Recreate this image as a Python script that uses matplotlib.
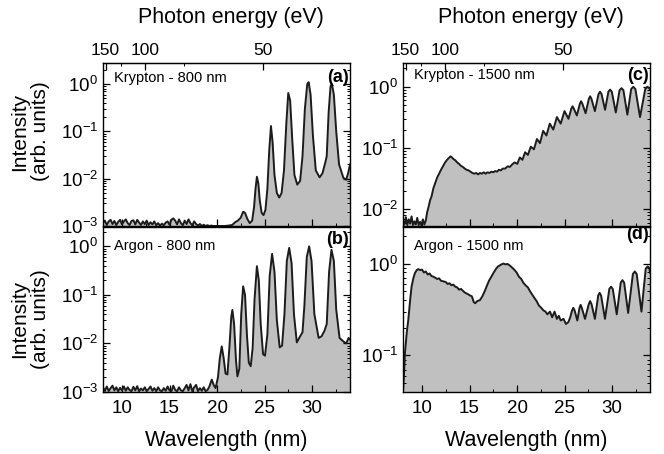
import numpy as np
import matplotlib
matplotlib.use("Agg")
import matplotlib.pyplot as plt
from matplotlib.ticker import LogLocator, NullFormatter, MultipleLocator

plt.rcParams['font.family'] = ['Liberation Sans', 'DejaVu Sans']
plt.rcParams['mathtext.fontset'] = 'custom'
plt.rcParams['mathtext.rm'] = 'Liberation Sans'
plt.rcParams['mathtext.it'] = 'Liberation Sans:italic'
plt.rcParams['mathtext.bf'] = 'Liberation Sans:bold'

# ------------------- DATA -------------------
# (a) Krypton - 800 nm, intensity in units of 1e-3
kr800_wl = [8.0, 8.2, 8.4, 8.6, 8.8, 9.0, 9.2, 9.4, 9.6, 9.8, 10.0, 10.2, 10.4, 10.6, 10.8,
            11.0, 11.2, 11.4, 11.6, 11.8, 12.0, 12.2, 12.4, 12.6, 12.8, 13.0, 13.2, 13.4, 13.6,
            13.8, 14.0, 14.2, 14.4, 14.6, 14.8, 15.0, 15.2, 15.4, 15.6, 15.8, 16.0, 16.2, 16.4,
            16.6, 16.8, 17.0, 17.2, 17.4, 17.6, 17.8, 18.0, 18.2, 18.4, 18.6, 18.8, 19.0, 19.2,
            19.4, 19.6, 19.8, 20.0, 20.2, 20.4, 20.8, 21.2, 21.6, 21.9, 22.2, 22.5, 22.75, 22.95,
            23.2, 23.45, 23.7, 23.9, 24.05, 24.2, 24.35, 24.5, 24.7, 24.9, 25.1, 25.3, 25.5, 25.68,
            25.85, 26.05, 26.3, 26.55, 26.8, 27.05, 27.3, 27.5, 27.7, 27.9, 28.15, 28.45, 28.75,
            29.0, 29.25, 29.5, 29.65, 29.85, 30.1, 30.4, 30.8, 31.1, 31.4, 31.55, 31.75, 31.95,
            32.1, 32.3, 32.55, 32.85, 33.3, 33.6, 33.8, 34.0]
kr800_int = [1.15, 1.3, 1.05, 1.25, 1.35, 1.1, 1.28, 1.05, 1.22, 1.35, 1.08, 1.25, 1.38, 1.15, 1.05,
             1.28, 1.32, 1.08, 1.35, 1.18, 1.05, 1.25, 1.1, 1.3, 1.05, 1.2, 1.08, 1.25, 1.04,
             1.15, 1.02, 1.12, 1.04, 1.18, 1.25, 1.06, 1.35, 1.45, 1.3, 1.08, 1.38, 1.15, 1.04,
             1.3, 1.1, 1.38, 1.15, 1.04, 1.25, 1.1, 1.02, 1.1, 1.0, 1.06, 1.0, 1.04, 1.0,
             1.02, 1.0, 1.0, 1.0, 1.0, 1.0, 1.0, 1.02, 1.05, 1.2, 1.3, 1.5, 2.0, 1.9,
             1.4, 1.15, 1.3, 2.5, 6.0, 11.0, 8.0, 3.5, 1.9, 1.7, 2.2, 6.0, 40, 130,
             60, 12, 5.0, 4.0, 5.0, 15, 150, 650, 450, 80, 12, 7.5, 9.0,
             30, 300, 1000, 1100, 600, 80, 15, 10.7, 13, 22, 30, 250, 900,
             1000, 600, 100, 20, 10.5, 9.5, 13, 20]

# (b) Argon - 800 nm, intensity in units of 1e-3
ar800_wl = [8.0, 8.2, 8.4, 8.6, 8.8, 9.0, 9.2, 9.4, 9.6, 9.8, 10.0, 10.2, 10.4, 10.6, 10.8,
            11.0, 11.2, 11.4, 11.6, 11.8, 12.0, 12.2, 12.4, 12.6, 12.8, 13.0, 13.2, 13.4, 13.6,
            13.8, 14.0, 14.2, 14.4, 14.6, 14.8, 15.0, 15.2, 15.4, 15.6, 15.8, 16.0, 16.2, 16.4,
            16.6, 16.8, 17.0, 17.2, 17.4, 17.6, 17.8, 18.0, 18.2, 18.4, 18.6, 18.8, 19.0, 19.2,
            19.45, 19.65, 19.85, 20.1, 20.3, 20.5, 20.7, 20.9, 21.1, 21.3, 21.5, 21.62, 21.8,
            22.0, 22.15, 22.35, 22.55, 22.75, 22.95, 23.15, 23.35, 23.55, 23.75, 23.95, 24.2,
            24.4, 24.6, 24.85, 25.05, 25.3, 25.55, 25.8, 26.05, 26.3, 26.6, 26.85, 27.1, 27.35,
            27.6, 27.85, 28.1, 28.4, 28.75, 29.0, 29.2, 29.45, 29.7, 29.95, 30.25, 30.7, 31.0,
            31.3, 31.55, 31.8, 32.05, 32.3, 32.55, 32.9, 33.3, 33.6, 33.85, 34.0]
ar800_int = [1.25, 1.05, 1.3, 1.05, 1.2, 1.35, 1.08, 1.25, 1.04, 1.22, 1.08, 1.3, 1.06, 1.25, 1.1,
             1.04, 1.28, 1.08, 1.32, 1.04, 1.18, 1.08, 1.25, 1.04, 1.15, 1.3, 1.06, 1.2, 1.04,
             1.25, 1.08, 1.04, 1.2, 1.06, 1.3, 1.08, 1.04, 1.35, 1.1, 1.04, 1.25, 1.08, 1.04,
             1.2, 1.4, 1.08, 1.45, 1.04, 1.25, 1.4, 1.04, 1.2, 1.06, 1.25, 1.04, 1.1, 1.3,
             1.8, 1.4, 1.2, 2.0, 5.0, 8.7, 5.0, 2.4, 2.3, 8.0, 35, 49, 25,
             4.5, 2.1, 3.0, 40, 150, 100, 15, 4.0, 3.4, 8.0, 80, 390,
             200, 25, 6.0, 5.6, 15, 250, 700, 300, 30, 8.3, 9.0, 40, 500,
             930, 450, 40, 10.5, 14, 17, 60, 600, 1000, 500, 40, 13, 14,
             18, 25, 300, 850, 500, 50, 13, 11, 10, 13, 12]

# (c) Krypton - 1500 nm, intensity in units of 1e-3
kr1500_wl = [8.0, 8.15, 8.3, 8.45, 8.6, 8.75, 8.9, 9.05, 9.2, 9.35, 9.5, 9.65, 9.8, 9.95, 10.1,
             10.25, 10.4, 10.55, 10.7, 10.85, 11.0, 11.2, 11.4, 11.6, 11.8, 12.0, 12.2, 12.4,
             12.6, 12.8, 13.0, 13.15, 13.3, 13.5, 13.7, 13.9, 14.1, 14.3, 14.5, 14.7, 14.9,
             15.1, 15.3, 15.5, 15.7, 15.9, 16.1, 16.3, 16.5, 16.7, 16.9, 17.1, 17.3, 17.5, 17.7,
             17.9, 18.1, 18.3, 18.5, 18.75, 19.0, 19.25, 19.5, 19.75, 20.03, 20.3, 20.57, 20.85,
             21.15, 21.45, 21.78, 22.1, 22.42, 22.75, 23.1, 23.45, 23.82, 24.2, 24.6, 25.0,
             25.42, 25.72, 25.85, 25.98, 26.3, 26.62, 26.75, 26.88, 27.22, 27.57, 27.7, 27.83,
             28.2, 28.58, 28.74, 28.9, 29.27, 29.62, 29.8, 29.98, 30.4, 30.8, 31.0, 31.2, 31.62,
             32.02, 32.24, 32.46, 32.95, 33.5, 33.72, 33.92, 34.0]
kr1500_int = [6.5, 5.6, 7.4, 5.5, 6.8, 5.8, 7.6, 5.5, 6.3, 5.6, 7.2, 5.5, 6.2, 5.4, 6.8,
              5.6, 6.5, 9.0, 11, 14, 16, 22, 27, 33, 38, 44, 50, 57,
              63, 68, 73, 70, 66, 63, 58, 55, 51, 49, 46, 44, 43,
              41, 39, 38, 39, 37, 39, 38, 40, 38, 40, 39, 41, 40, 42,
              41, 44, 43, 46, 46, 50, 49, 54, 58, 55, 70, 64, 85,
              77, 105, 95, 140, 120, 190, 160, 250, 200, 320, 250, 400,
              300, 440, 480, 440, 340, 530, 580, 530, 370, 640, 700, 640,
              400, 760, 830, 760, 420, 830, 900, 830, 380, 880, 950, 880, 350,
              920, 1000, 920, 320, 920, 1000, 950, 900]

# (d) Argon - 1500 nm, intensity (arb. units)
ar1500_wl = [8.0, 8.1, 8.2, 8.4, 8.56, 8.75, 8.9, 9.1, 9.26, 9.45, 9.6, 9.8, 10.0, 10.2, 10.4,
             10.6, 10.8, 11.0, 11.2, 11.4, 11.6, 11.8, 12.0, 12.25, 12.5, 12.7, 12.9, 13.1, 13.3,
             13.5, 13.7, 13.9, 14.1, 14.35, 14.55, 14.75, 15.05, 15.25, 15.45, 15.6, 15.8, 16.1,
             16.35, 16.6, 16.85, 17.05, 17.3, 17.55, 17.8, 18.0, 18.3, 18.55, 18.8, 19.0, 19.26,
             19.5, 19.7, 19.96, 20.2, 20.45, 20.66, 20.9, 21.15, 21.37, 21.6, 21.85, 22.07, 22.3,
             22.55, 22.77, 23.0, 23.2, 23.47, 23.7, 23.95, 24.2, 24.4, 24.6, 24.9, 25.15, 25.4,
             25.6, 25.8, 25.93, 26.06, 26.35, 26.58, 26.7, 26.82, 27.16, 27.55, 27.7, 27.85,
             28.2, 28.55, 28.7, 28.85, 29.26, 29.72, 29.9, 30.08, 30.5, 30.92, 31.1, 31.28,
             31.7, 32.2, 32.4, 32.6, 33.1, 33.55, 33.75, 33.92, 34.0]
ar1500_int = [0.04, 0.06, 0.105, 0.18, 0.245, 0.4, 0.56, 0.7, 0.79, 0.85, 0.87, 0.85, 0.86, 0.8, 0.82,
              0.76, 0.78, 0.73, 0.72, 0.7, 0.68, 0.69, 0.65, 0.64, 0.63, 0.6, 0.61, 0.58, 0.59,
              0.56, 0.55, 0.52, 0.53, 0.5, 0.48, 0.47, 0.45, 0.44, 0.38, 0.37, 0.39, 0.4,
              0.44, 0.5, 0.58, 0.65, 0.72, 0.8, 0.88, 0.93, 0.97, 1.0, 0.98, 0.99, 0.95,
              0.9, 0.86, 0.8, 0.72, 0.68, 0.62, 0.58, 0.55, 0.5, 0.46, 0.42, 0.39, 0.35,
              0.33, 0.31, 0.3, 0.28, 0.3, 0.26, 0.3, 0.25, 0.27, 0.24, 0.25, 0.22, 0.23,
              0.26, 0.31, 0.33, 0.31, 0.24, 0.33, 0.355, 0.33, 0.25, 0.36, 0.39, 0.36,
              0.25, 0.45, 0.48, 0.45, 0.25, 0.53, 0.56, 0.53, 0.28, 0.62, 0.66, 0.62,
              0.29, 0.77, 0.82, 0.77, 0.3, 0.88, 0.93, 0.9, 0.8]

panel_labels = ["(a)", "(b)", "(c)", "(d)"]
panel_names = ["Krypton - 800 nm", "Argon - 800 nm", "Krypton - 1500 nm", "Argon - 1500 nm"]
energy_ticks = [150, 100, 50]
energy_minor = [125, 75]
wl_ticks = [10, 15, 20, 25, 30]

# ------------------- STYLE -------------------
FILL = '#c0c0c0'
LINE = '#1c1c1c'
HC = 1239.84  # eV nm
XLIM = (8, 34)


def style_axis(ax, ylim):
    ax.set_yscale('log')
    ax.set_xlim(*XLIM)
    ax.set_ylim(*ylim)
    ax.yaxis.set_major_locator(LogLocator(base=10))
    ax.yaxis.set_minor_locator(LogLocator(base=10, subs=np.arange(2, 10)))
    ax.yaxis.set_minor_formatter(NullFormatter())
    ax.xaxis.set_minor_locator(MultipleLocator(2.5))
    ax.set_xticks(wl_ticks)
    ax.tick_params(which='both', direction='in', right=True, top=False, labelsize=13.5)
    ax.tick_params(axis='x', pad=6)
    ax.tick_params(which='major', length=5, width=0.9)
    ax.tick_params(which='minor', length=2.5, width=0.7)
    for s in ax.spines.values():
        s.set_linewidth(1.0)


def draw_panel(ax, wl, inten, ylim, name, tag, name_y, tag_y):
    ax.fill_between(wl, inten, 1e-6, color=FILL, lw=0)
    ax.plot(wl, inten, color=LINE, lw=1.4)
    style_axis(ax, ylim)
    ax.text(0.045, name_y, name, transform=ax.transAxes, fontsize=10.5, va='center', ha='left')
    ax.text(0.995, tag_y, tag, transform=ax.transAxes, fontsize=13, fontweight='bold',
            va='center', ha='right')


def add_energy_axis(ax):
    sec = ax.secondary_xaxis('top', functions=(lambda l: HC / l, lambda e: HC / e))
    sec.set_xticks(energy_ticks)
    sec.set_xticks(energy_minor, minor=True)
    sec.tick_params(which='both', direction='in', labelsize=12.5)
    sec.tick_params(which='major', length=5, width=0.9)
    sec.tick_params(which='minor', length=2.5, width=0.7)
    return sec


fig = plt.figure(figsize=(6.64, 4.54), dpi=100)
W, H = 664.0, 454.0


def px_axes(x0, y0, x1, y1):
    return fig.add_axes([x0 / W, 1 - y1 / H, (x1 - x0) / W, (y1 - y0) / H])


ax_a = px_axes(103, 63, 350, 226)
ax_b = px_axes(103, 227, 350, 392)
ax_c = px_axes(403, 63, 650, 226)
ax_d = px_axes(403, 227, 650, 392)

draw_panel(ax_a, kr800_wl, np.array(kr800_int) * 1e-3, (1e-3, 2.8),
           panel_names[0], panel_labels[0], 0.91, 0.91)
draw_panel(ax_b, ar800_wl, np.array(ar800_int) * 1e-3, (1e-3, 2.5),
           panel_names[1], panel_labels[1], 0.885, 0.925)
draw_panel(ax_c, kr1500_wl, np.array(kr1500_int) * 1e-3, (5.3e-3, 2.45),
           panel_names[2], panel_labels[2], 0.925, 0.925)
draw_panel(ax_d, ar1500_wl, ar1500_int, (0.04, 2.5),
           panel_names[3], panel_labels[3], 0.885, 0.955)

for ax in (ax_a, ax_c):
    ax.tick_params(labelbottom=False)
    add_energy_axis(ax)

# top titles placed in figure pixels
fig.text(231 / W, 1 - 17 / H, 'Photon energy (eV)', fontsize=15.5, ha='center', va='center')
fig.text(531 / W, 1 - 17 / H, 'Photon energy (eV)', fontsize=15.5, ha='center', va='center')

for ax in (ax_b, ax_d):
    ax.set_xlabel('Wavelength (nm)', fontsize=15.5, labelpad=9)

ax_a.set_ylabel('Intensity\n(arb. units)', fontsize=15, linespacing=1.15)
ax_a.yaxis.set_label_coords(-0.215, 0.58)
ax_b.set_ylabel('Intensity\n(arb. units)', fontsize=15, linespacing=1.15)
ax_b.yaxis.set_label_coords(-0.215, 0.44)

fig.savefig('out.png', dpi=100)
